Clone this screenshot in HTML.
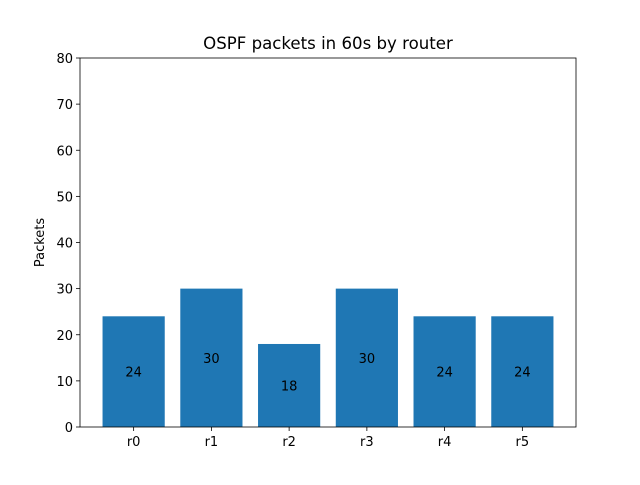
<!DOCTYPE html>
<html><head><meta charset="utf-8"><style>body{margin:0;background:#fff}svg{font-family:"DejaVu Sans","Liberation Sans",sans-serif}</style></head>
<body>
<svg id="c" width="640" height="480" xmlns="http://www.w3.org/2000/svg"></svg>
<script>
const categories = ["r0","r1","r2","r3","r4","r5"];
const values = [24,30,18,30,24,24];
const yTicks = [0,10,20,30,40,50,60,70,80];
const L=80,R=576,T=58,B=427,xmin=-0.69,xmax=5.69,ymax=80;
const X=v=>L+(v-xmin)/(xmax-xmin)*(R-L);
const Y=v=>B-v/ymax*(B-T);
const svg=document.getElementById('c');
const NS='http://www.w3.org/2000/svg';
function mk(tag,attrs,txt){const e=document.createElementNS(NS,tag);for(const k in attrs)e.setAttribute(k,attrs[k]);if(txt!==undefined)e.textContent=txt;svg.appendChild(e);return e;}
categories.forEach((c,i)=>{
  const r=mk('rect',{x:X(i-0.4),y:Y(values[i]),width:X(i+0.4)-X(i-0.4),height:Y(0)-Y(values[i]),fill:'#1f77b4'});
  
  
  const t=mk('text',{x:X(i),y:Y(values[i]/2)+5,'text-anchor':'middle','font-size':13,fill:'#000'},String(values[i]));
  
  
  mk('line',{x1:X(i),x2:X(i),y1:B,y2:B+4,stroke:'#000','stroke-width':0.8});
  const xl=mk('text',{x:X(i),y:B+19,'text-anchor':'middle','font-size':13},c);
  
  
});
yTicks.forEach(v=>{
  mk('line',{x1:L-4,x2:L,y1:Y(v),y2:Y(v),stroke:'#000','stroke-width':0.8});
  const t=mk('text',{x:L-7,y:Y(v)+5,'text-anchor':'end','font-size':13},String(v));
  
  
});
const f=mk('rect',{x:L,y:T,width:R-L,height:B-T,fill:'none',stroke:'#000','stroke-width':0.8});


const yt=mk('text',{x:44,y:(T+B)/2,'text-anchor':'middle','font-size':13,transform:`rotate(-90 44 ${(T+B)/2})`},'Packets');


const tt=mk('text',{x:(L+R)/2,y:49,'text-anchor':'middle','font-size':16.6},'OSPF packets in 60s by router');


</script>
</body></html>
